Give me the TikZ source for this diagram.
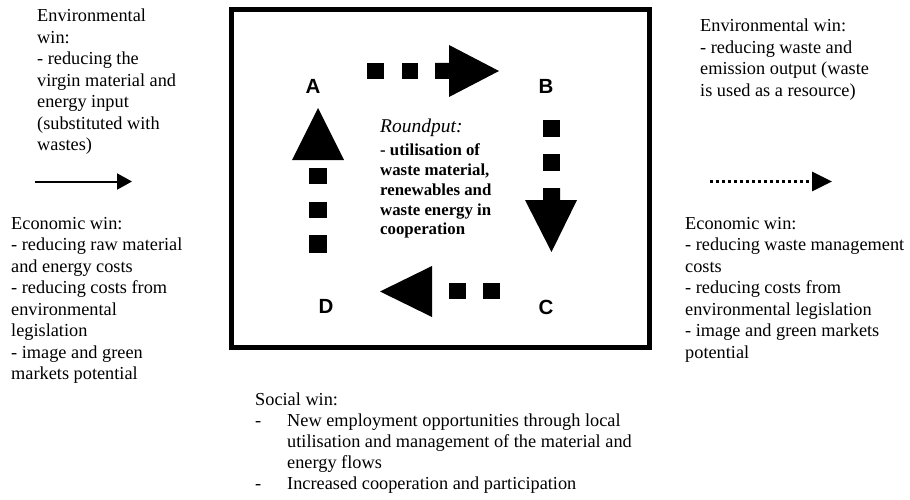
\documentclass[tikz,border=0pt]{standalone}
\usepackage{fontspec}
\setmainfont{Liberation Serif}
\newfontfamily\labelfont{Liberation Sans}
\usetikzlibrary{arrows.meta}
\begin{document}
\begin{tikzpicture}[x=1pt,y=-1pt,
  txt/.style={font=\fontsize{18.3}{21.5}\selectfont, anchor=base west, inner sep=0pt},
  boldtxt/.style={font=\fontsize{16.8}{19.7}\selectfont\bfseries, anchor=base west, inner sep=0pt},
  corner/.style={font=\labelfont\bfseries\fontsize{20.5}{24}\selectfont, inner sep=0pt},
  blockpart/.style={fill=black, draw=none},
  frame/.style={draw=black, line width=5pt},
  solidflow/.style={draw=black, line width=2pt, -{Triangle[length=15pt,width=16pt]}},
  dottedflow/.style={draw=black, line width=3pt, dash pattern=on 3pt off 3pt,
    -{Triangle[length=20pt,width=19pt]}}]
\useasboundingbox (0,0) rectangle (910,500);

% central frame
\draw[frame] (231.5,9.5) rectangle (649.5,347);

% corner labels
\node[corner] (A) at (313,86) {A};
\node[corner] (B) at (546,86) {B};
\node[corner] (C) at (546,307) {C};
\node[corner] (D) at (326,306) {D};

% block arrow A -> B
\fill[blockpart] (367,63) rectangle (384,79);
\fill[blockpart] (402,63) rectangle (418,79);
\fill[blockpart] (435,63) -- (449,63) -- (449,45) -- (499,71) -- (449,97) -- (449,79) -- (435,79) -- cycle;

% block arrow B -> C
\fill[blockpart] (543,120) rectangle (560,137);
\fill[blockpart] (543,154) rectangle (560,171);
\fill[blockpart] (543,188) -- (543,200) -- (525,200) -- (551.5,252) -- (577,200) -- (560,200) -- (560,188) -- cycle;

% block arrow C -> D
\fill[blockpart] (483,283) rectangle (500,299);
\fill[blockpart] (449,283) rectangle (466,299);
\fill[blockpart] (432,266) -- (432,317) -- (380,291.5) -- cycle;

% block arrow D -> A
\fill[blockpart] (309,235) rectangle (327,253);
\fill[blockpart] (309,202) rectangle (327,218);
\fill[blockpart] (309,168) rectangle (327,184);
\fill[blockpart] (292,160) -- (344,160) -- (318,108) -- cycle;

% roundput text
\node[font=\fontsize{19.5}{22}\selectfont\itshape, anchor=base west, inner sep=0pt] (rp) at (380,132) {Roundput:};
\foreach \s [count=\i from 0] in {{- utilisation of}, {waste material,}, {renewables and}, {waste energy in}, {cooperation}}
  \node[boldtxt] (rp\i) at (380,{156+19.7*\i}) {\s};

% left column
\foreach \s [count=\i from 0] in {{Environmental}, {win:}, {- reducing the}, {virgin material and}, {energy input}, {(substituted with}, {wastes)}}
  \node[txt] (envL\i) at (37,{21.7+21.5*\i}) {\s};
\coordinate (inS) at (35,181.5);
\coordinate (inE) at (132,181.5);
\draw[solidflow] (inS) -- (inE);
\foreach \s [count=\i from 0] in {{Economic win:}, {- reducing raw material}, {and energy costs}, {- reducing costs from}, {environmental}, {legislation}, {- image and green}, {markets potential}}
  \node[txt] (ecoL\i) at (11,{229+21.5*\i}) {\s};

% right column
\foreach \s [count=\i from 0] in {{Environmental win:}, {- reducing waste and}, {emission output (waste}, {is used as a resource)}}
  \node[txt] (envR\i) at (700,{31.7+21.5*\i}) {\s};
\coordinate (outS) at (710,181.5);
\coordinate (outE) at (832,181.5);
\draw[dottedflow] (outS) -- (outE);
\foreach \s [count=\i from 0] in {{Economic win:}, {- reducing waste management}, {costs}, {- reducing costs from}, {environmental legislation}, {- image and green markets}, {potential}}
  \node[txt] (ecoR\i) at (685,{229+21.5*\i}) {\s};

% social win
\node[txt] (soc) at (255,405) {Social win:};
\foreach \s [count=\i from 0] in {{New employment opportunities through local}, {utilisation and management of the material and}, {energy flows}, {Increased cooperation and participation}}
  \node[txt] (soc\i) at (287,{426+21*\i}) {\s};
\node[txt] (dash0) at (255,426) {-};
\node[txt] (dash1) at (255,489) {-};
\end{tikzpicture}
\end{document}
